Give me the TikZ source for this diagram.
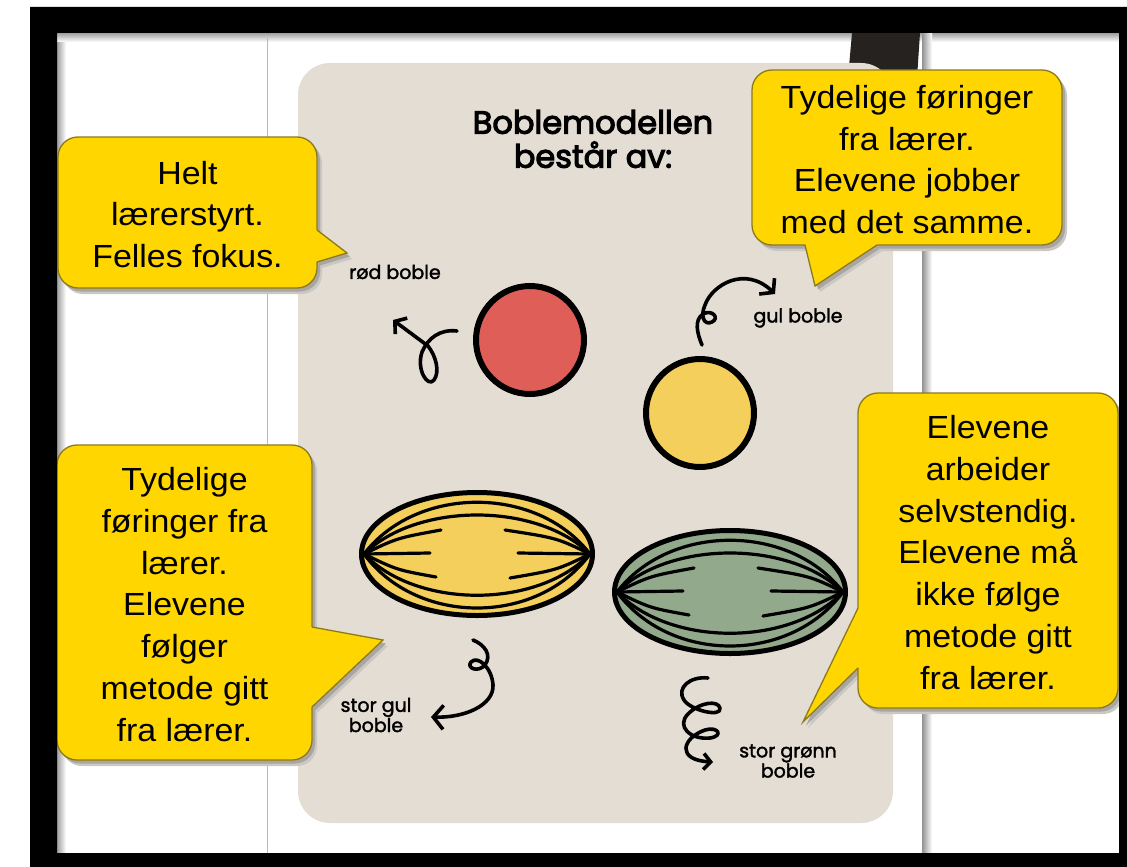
\documentclass[tikz,border=0pt]{standalone}
\usepackage{fontspec}
\setmainfont{Liberation Sans}
\newfontfamily\bubblefont{Liberation Sans}[FakeStretch=1.06]
\newfontfamily\handfont{Poppins}[FakeBold=1.8]
\newfontfamily\titlefont{Poppins}[FakeBold=3.4]
\usetikzlibrary{arrows.meta}

\definecolor{bubbleyellow}{HTML}{FFD600}
\definecolor{bubbleedge}{HTML}{8C7A1A}
\definecolor{shadowsoft}{HTML}{CBC8C4}
\definecolor{shadowdark}{HTML}{A9A6A2}
\definecolor{cardbeige}{HTML}{E4DDD3}
\definecolor{redfill}{HTML}{E05E58}
\definecolor{yellowfill}{HTML}{F5CF5C}
\definecolor{greenfill}{HTML}{93A98B}
\definecolor{strapdark}{HTML}{26221F}

\tikzset{
  bubbletext/.style={align=center, inner sep=0pt, text=black,
    font=\bubblefont\fontsize{32}{41.7}\selectfont},
  handlabel/.style={align=center, inner sep=0pt,
    font=\handfont\fontsize{19}{18}\selectfont},
  handarrow/.style={line width=3.6, line cap=round, line join=round},
  bubbledot/.style={circle, draw=black, line width=6, minimum size=108, inner sep=0pt},
}

% speech bubble: name, x1, y1, x2, y2, base point, tip, base point, text
\newcommand\callout[9]{%
  \begin{scope}[shift={(5,6)}]
    \fill[shadowsoft, rounded corners=20] (#2,#3) rectangle (#4,#5);
    \fill[shadowsoft] #6 -- #7 -- #8 -- cycle;
  \end{scope}
  \begin{scope}[shift={(3,3.5)}]
    \fill[shadowdark, rounded corners=20] (#2,#3) rectangle (#4,#5);
    \fill[shadowdark] #6 -- #7 -- #8 -- cycle;
  \end{scope}
  \fill[bubbleyellow, rounded corners=20] (#2,#3) rectangle (#4,#5);
  \draw[bubbleedge, line width=1.3, rounded corners=20] (#2,#3) rectangle (#4,#5);
  \fill[bubbleyellow] #6 -- #7 -- #8 -- ({(#2+#4)/2},{(#3+#5)/2}) -- cycle;
  \draw[bubbleedge, line width=1.3, line join=miter] #6 -- #7 -- #8;
  \node[bubbletext] (#1) at ({(#2+#4)/2},{(#3+#5)/2+2}) {#9};
}

% striped lens bubble: name, centre x, centre y, fill colour
\newcommand\lensbubble[4]{%
  \begin{scope}[shift={(#2,#3)}]
    \draw[line width=5, fill=#4] (0,0) ellipse [x radius=115.5, y radius=61.5];
    \coordinate (#1) at (0,0);
    \begin{scope}[line width=3.2, line cap=round]
      \draw (-113,0) .. controls (-60,-69) and (60,-69) .. (113,0);
      \draw (-113,0) .. controls (-60,-52) and (60,-52) .. (113,0);
      \draw (-113,0) .. controls (-60,55) and (60,55) .. (113,0);
      \draw (-113,0) .. controls (-60,72) and (60,72) .. (113,0);
      \draw (-113,0) .. controls (-80,-16) .. (-36,-24);
      \draw (-113,0) -- (-47,-1);
      \draw (-113,0) .. controls (-80,16) .. (-41,23);
      \draw (113,0) .. controls (80,-16) .. (28,-24);
      \draw (113,0) -- (41,-1);
      \draw (113,0) .. controls (80,16) .. (33,24);
    \end{scope}
  \end{scope}
}

\begin{document}
\begin{tikzpicture}[x=1pt, y=-1pt]
\useasboundingbox (0,0) rectangle (1127,867);
\fill[white] (0,0) rectangle (1127,867);

% page shadows
\shade[left color=gray!75, right color=white] (57,33) rectangle (66,853);
\shade[top color=gray!75, bottom color=white] (57,33) rectangle (1119,42);
\shade[left color=gray!85, right color=white] (922,33) rectangle (932,853);
\draw[gray!55, line width=0.8] (267,38) -- (267,853);

% dark strap behind the top bubble
\fill[strapdark] (852,33) -- (920,33) -- (917,78) -- (848,78) -- cycle;

% card
\fill[cardbeige, rounded corners=32] (298,63) rectangle (893,823);

% title
\node[font=\titlefont\fontsize{32}{34}\selectfont, align=center] (title)
  at (593,139) {Boblemodellen\\består av:};

% bubbles
\node[bubbledot, fill=redfill] (redbubble) at (530,340) {};
\node[bubbledot, fill=yellowfill] (yellowbubble) at (700,413) {};
\lensbubble{biggul}{477}{554}{yellowfill}
\lensbubble{biggreen}{730}{592}{greenfill}

% labels
\node[handlabel] (redlabel) at (395,272) {rød boble};
\node[handlabel] (yellowlabel) at (798,318) {gul boble};
\node[handlabel] (biggullabel) at (376,715) {stor gul\\boble};
\node[handlabel] (biggreenlabel) at (788,761) {stor grønn\\boble};

% hand-drawn arrows
\draw[handarrow, -{Straight Barb[length=8pt, width=20pt]}]
  (457,331) .. controls (440,329) and (428,338) .. (422,352)
  .. controls (416,370) and (428,388) .. (434,380)
  .. controls (440,372) and (436,356) .. (428,346) -- (393,320);
\draw[handarrow, -{Straight Barb[length=9pt, width=22pt]}]
  (702,345) .. controls (697,333) and (694,320) .. (703,314)
  .. controls (712,309) and (720,318) .. (712,322)
  .. controls (704,326) and (700,316) .. (705,305)
  .. controls (712,285) and (745,265) .. (775,294);
\draw[handarrow, -{Straight Barb[length=10pt, width=24pt]}]
  (473,640) .. controls (485,645) and (492,655) .. (485,665)
  .. controls (478,673) and (466,668) .. (471,662)
  .. controls (478,655) and (492,668) .. (493,685)
  .. controls (494,705) and (465,718) .. (431,717);
\draw[handarrow, -{Straight Barb[length=7pt, width=16pt]}]
  (708,678) .. controls (690,676) and (676,688) .. (684,700)
  .. controls (690,710) and (722,718) .. (720,708)
  .. controls (718,700) and (700,702) .. (688,714)
  .. controls (676,726) and (690,740) .. (710,738)
  .. controls (724,736) and (718,726) .. (705,730)
  .. controls (682,738) and (676,760) .. (713,762);

% speech bubbles
\callout{lead}{58}{137}{317}{288}{(317,230)}{(347,253)}{(317,262)}
  {Helt\\lærerstyrt.\\Felles fokus.}
\callout{same}{752}{70}{1062}{245}{(805,245)}{(815,286)}{(877,245)}
  {Tydelige føringer\\fra lærer.\\Elevene jobber\\med det samme.}
\callout{follow}{57}{445}{312}{760}{(312,627)}{(383,640)}{(312,707)}
  {Tydelige\\føringer fra\\lærer.\\Elevene\\følger\\metode gitt\\fra lærer.}
\callout{free}{858}{393}{1118}{708}{(858,608)}{(803,722)}{(858,668)}
  {Elevene\\arbeider\\selvstendig.\\Elevene må\\ikke følge\\metode gitt\\fra lærer.}

% outer frame
\fill[black, even odd rule] (30,7) rectangle (1127,867) (57,33) rectangle (1119,853);
\end{tikzpicture}
\end{document}
